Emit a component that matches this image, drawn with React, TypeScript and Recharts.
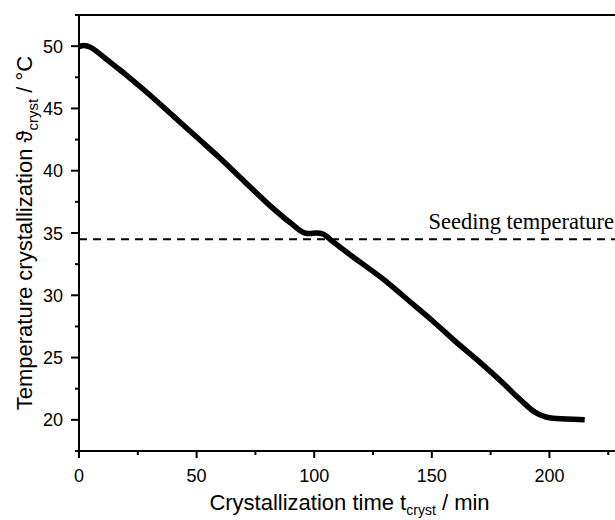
import { LineChart, Line, XAxis, YAxis, ReferenceLine, Label } from 'recharts';

// cooling profile
const timeMin = [0, 2, 5, 8, 12, 16, 20, 30, 40, 50, 60, 70, 80, 90, 96, 98, 101, 104, 107, 110, 120, 130, 140, 150, 160, 170, 180, 186, 190, 194, 198, 203, 210, 215];
const tempC = [49.95, 50.05, 49.9, 49.5, 48.9, 48.3, 47.7, 46.1, 44.4, 42.7, 41.0, 39.2, 37.4, 35.8, 35.0, 34.95, 35.0, 34.9, 34.45, 34.0, 32.6, 31.2, 29.6, 28.0, 26.3, 24.7, 23.0, 21.9, 21.2, 20.6, 20.25, 20.1, 20.05, 20.0];

const seedingTemp = 34.5;
const seedingLabel = 'Seeding temperature';

const xTicks = [0, 25, 50, 75, 100, 125, 150, 175, 200, 225];
const yTicks = [17.5, 20, 22.5, 25, 27.5, 30, 32.5, 35, 37.5, 40, 42.5, 45, 47.5, 50, 52.5];

const data = timeMin.map((t, i) => ({ t, temp: tempC[i] }));

const SANS = '"Liberation Sans", Arial, sans-serif';

const XTick = (props: any) => {
  const { x, y, payload } = props;
  const major = payload.value % 50 === 0;
  return (
    <g>
      <line x1={x} y1={y} x2={x} y2={y + (major ? 7 : 4)} stroke="#000" strokeWidth={2} />
      {major && (
        <text x={x} y={y + 30.5} textAnchor="middle" fontSize={18} fontFamily={SANS} fill="#000">
          {payload.value}
        </text>
      )}
    </g>
  );
};

const YTick = (props: any) => {
  const { x, y, payload } = props;
  const major = payload.value % 5 === 0;
  return (
    <g>
      <line x1={x} y1={y} x2={x - (major ? 8 : 4)} y2={y} stroke="#000" strokeWidth={2} />
      {major && (
        <text x={x - 16} y={y + 6.5} textAnchor="end" fontSize={18} fontFamily={SANS} fill="#000">
          {payload.value}
        </text>
      )}
    </g>
  );
};

const XTitle = (props: any) => {
  const vb = props.viewBox;
  return (
    <text x={vb.x + vb.width / 2} y={vb.y + 59} textAnchor="middle" fontSize={22} fontFamily={SANS} fill="#000">
      Crystallization time t
      <tspan fontSize={14} dy={5}>cryst</tspan>
      <tspan dy={-5}> / min</tspan>
    </text>
  );
};

const YTitle = (props: any) => {
  const vb = props.viewBox;
  const cx = 32;
  const cy = vb.y + vb.height / 2;
  return (
    <text
      x={cx}
      y={cy}
      transform={`rotate(-90 ${cx} ${cy})`}
      textAnchor="middle"
      fontSize={22}
      fontFamily={SANS}
      fill="#000"
    >
      Temperature crystallization ϑ
      <tspan fontSize={15} dy={6}>cryst</tspan>
      <tspan dy={-6}> / °C</tspan>
    </text>
  );
};

const SeedLabel = (props: any) => {
  const vb = props.viewBox;
  return (
    <text
      x={vb.x + vb.width - 6}
      y={vb.y - 10}
      textAnchor="end"
      fontSize={22.5}
      fontFamily='"Liberation Serif", "Times New Roman", serif'
      fill="#000"
    >
      {seedingLabel}
    </text>
  );
};

export default function App() {
  return (
    <div style={{ position: 'absolute', left: 0, top: 0, width: 615, height: 520, overflow: 'hidden', background: '#fff' }}>
      <LineChart width={632} height={520} data={data} margin={{ top: 15, right: 12, bottom: 0, left: 0 }}>
        <XAxis
          dataKey="t"
          type="number"
          domain={[0, 230]}
          ticks={xTicks}
          allowDataOverflow
          height={69}
          tickSize={0}
          tickMargin={0}
          tickLine={false}
          tick={<XTick />}
          axisLine={{ stroke: '#000', strokeWidth: 2 }}
          interval={0}
        >
          <Label content={<XTitle />} />
        </XAxis>
        <YAxis
          type="number"
          domain={[17.5, 52.5]}
          ticks={yTicks}
          allowDataOverflow
          width={79}
          tickSize={0}
          tickMargin={0}
          tickLine={false}
          tick={<YTick />}
          axisLine={{ stroke: '#000', strokeWidth: 2 }}
          interval={0}
        >
          <Label content={<YTitle />} />
        </YAxis>
        <ReferenceLine y={52.5} stroke="#000" strokeWidth={2} />
        <ReferenceLine
          y={seedingTemp}
          stroke="#000"
          strokeWidth={2}
          strokeDasharray="8 6"
          label={<SeedLabel />}
        />
        <Line
          type="monotone"
          dataKey="temp"
          stroke="#000"
          strokeWidth={5.5}
          dot={false}
          isAnimationActive={false}
        />
      </LineChart>
    </div>
  );
}
